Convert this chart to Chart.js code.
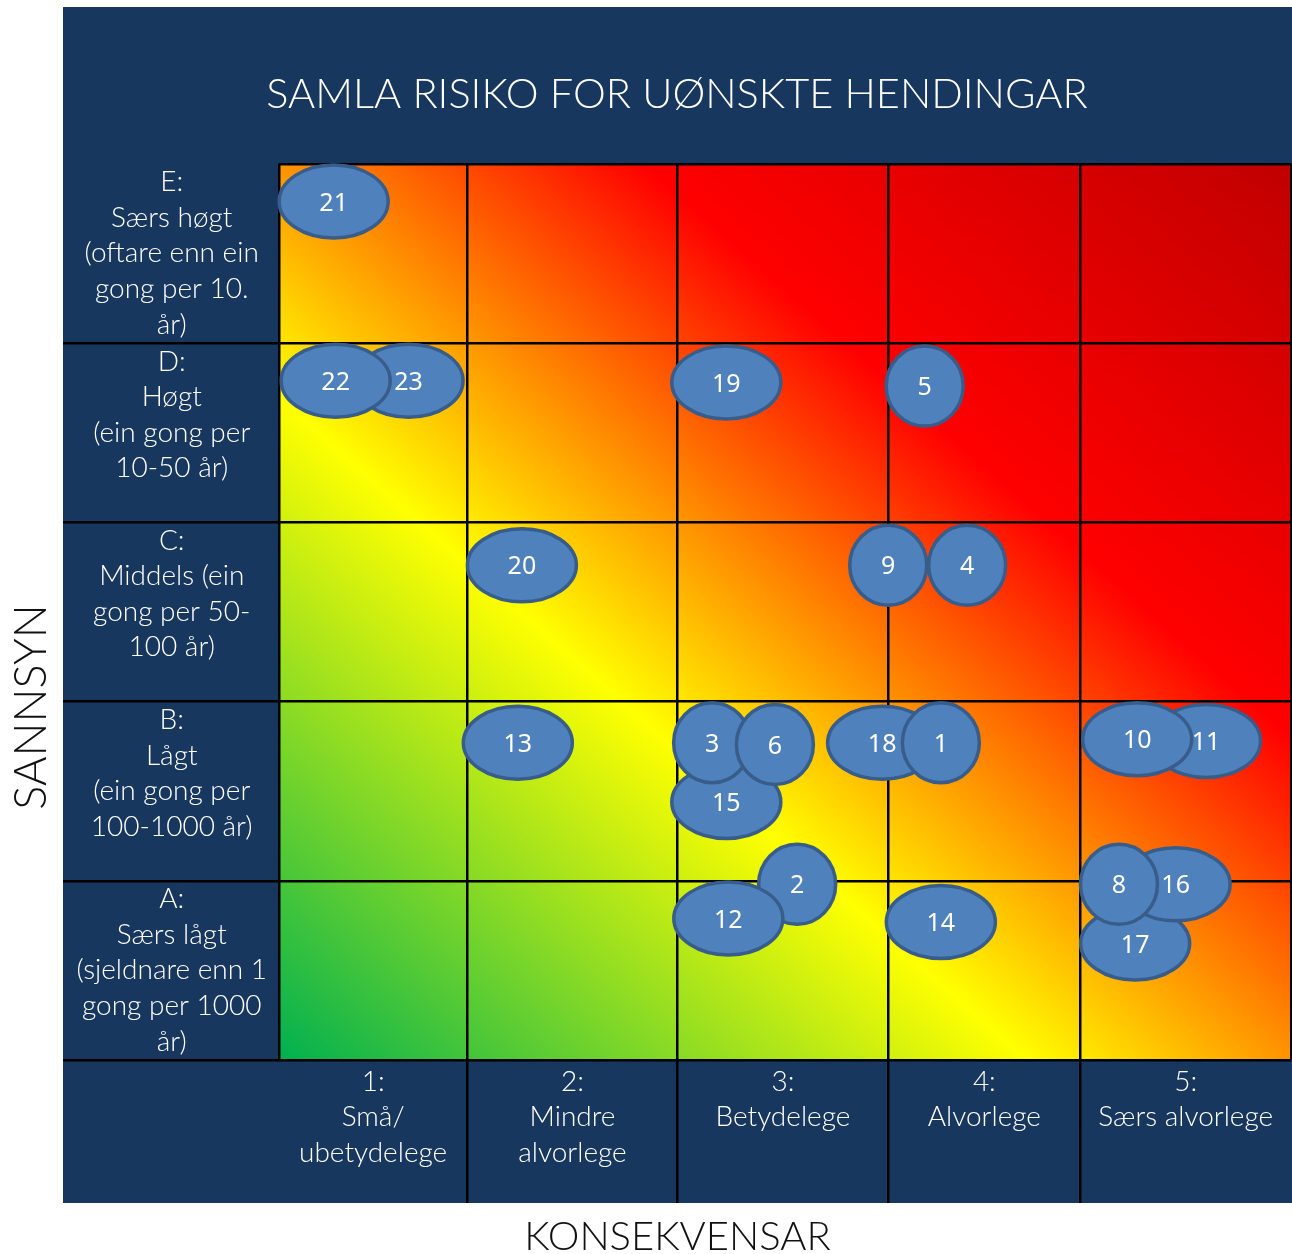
<!DOCTYPE html>
<html>
<head>
<meta charset="utf-8">
<script src="https://cdn.jsdelivr.net/npm/chart.js@4.4.1/dist/chart.umd.min.js"></script>
<style>
  html, body { margin: 0; padding: 0; background: #fff; }
  #wrap { width: 1292px; height: 1254px; }
</style>
</head>
<body>
<div id="wrap"><canvas id="risiko" width="1292" height="1254"></canvas></div>
<script>
const tittel = "SAMLA RISIKO FOR UØNSKTE HENDINGAR";
const aksetittelX = "KONSEKVENSAR";
const aksetittelY = "SANNSYN";

const konsekvensLabels = [
  ["1:", "Små/", "ubetydelege"],
  ["2:", "Mindre", "alvorlege"],
  ["3:", "Betydelege"],
  ["4:", "Alvorlege"],
  ["5:", "Særs alvorlege"]
];
// all labels padded to five lines so they sit at the top of each row
const sannsynLabels = [
  ["A:", "Særs lågt", "(sjeldnare enn 1", "gong per 1000", "år)"],
  ["B:", "Lågt", "(ein gong per", "100-1000 år)", ""],
  ["C:", "Middels (ein", "gong per 50-", "100 år)", ""],
  ["D:", "Høgt", "(ein gong per", "10-50 år)", ""],
  ["E:", "Særs høgt", "(oftare enn ein", "gong per 10.", "år)"]
];

// column and row borders on the value scales
const konsekvensGrenser = [0, 0.93, 1.97, 3.01, 3.96, 5];
const sannsynGrenser = [0, 1, 2, 3, 4, 5];

// events, in drawing order (last one on top)
const hendingar = [21, 23, 22, 19, 5, 20, 9, 4, 13, 15, 3, 6, 18, 1, 11, 10, 2, 12, 14, 17, 16, 8];
const konsekvens = [0.27, 0.64, 0.28, 2.21, 3.19, 1.20, 3.01, 3.40, 1.18, 2.21, 2.14, 2.45, 2.98, 3.27, 4.58, 4.24, 2.56, 2.22, 3.27, 4.23, 4.43, 4.15];
const sannsyn = [4.79, 3.79, 3.79, 3.78, 3.76, 2.76, 2.76, 2.76, 1.77, 1.44, 1.77, 1.76, 1.77, 1.77, 1.78, 1.79, 0.98, 0.79, 0.77, 0.65, 0.98, 0.98];

// events drawn as circles instead of wide ellipses
const runde = [5, 9, 4, 3, 6, 1, 2, 8];

const BLA = '#17375E';
const lysFont = { family: 'Lato, "Open Sans", sans-serif', weight: 300 };

const midtar = g => g.slice(0, -1).map((v, i) => ({ value: (v + g[i + 1]) / 2 }));

const bakgrunn = {
  id: 'bakgrunn',
  beforeDraw(chart) {
    const { ctx, chartArea: a, scales } = chart;
    ctx.save();
    ctx.fillStyle = '#fff';
    ctx.fillRect(0, 0, chart.width, chart.height);
    const top = chart.titleBlock.top;
    ctx.fillStyle = BLA;
    ctx.fillRect(scales.y2.left, top, chart.width - scales.y2.left, scales.x2.bottom - top);

    ctx.save();
    ctx.translate(a.left, a.bottom);
    ctx.scale(a.right - a.left, a.top - a.bottom);
    const g = ctx.createLinearGradient(0, 0, 1, 1);
    g.addColorStop(0, '#00B050');
    g.addColorStop(0.37, '#FFFF00');
    g.addColorStop(0.68, '#FF0000');
    g.addColorStop(1, '#C00000');
    ctx.fillStyle = g;
    ctx.fillRect(0, 0, 1, 1);
    ctx.restore();

    ctx.fillStyle = '#111';
    ctx.textAlign = 'center';
    ctx.textBaseline = 'middle';
    ctx.font = '300 40px Lato, "Open Sans", sans-serif';
    ctx.fillText(aksetittelX, (scales.y2.left + chart.width) / 2, scales.x2.bottom + 34);
    ctx.font = '300 45px Lato, "Open Sans", sans-serif';
    ctx.translate(scales.y2.left / 2, 707);
    ctx.rotate(-Math.PI / 2);
    ctx.fillText(aksetittelY, 0, 0);
    ctx.restore();
  }
};

const bobler = {
  id: 'bobler',
  afterDatasetsDraw(chart) {
    const { ctx } = chart;
    const meta = chart.getDatasetMeta(0);
    ctx.save();
    meta.data.forEach((p, i) => {
      const id = hendingar[i];
      const rund = runde.includes(id);
      const rx = rund ? 38.5 : 54.5;
      const ry = rund ? 40 : 36.5;
      ctx.beginPath();
      ctx.ellipse(p.x, p.y, rx, ry, 0, 0, Math.PI * 2);
      ctx.fillStyle = '#4F81BD';
      ctx.fill();
      ctx.lineWidth = 3.5;
      ctx.strokeStyle = '#385D8A';
      ctx.stroke();
      ctx.fillStyle = '#fff';
      ctx.font = '25px "Noto Sans", sans-serif';
      ctx.textAlign = 'center';
      ctx.textBaseline = 'middle';
      ctx.fillText(String(id), p.x, p.y + 2);
    });
    ctx.restore();
  }
};

new Chart('risiko', {
  type: 'scatter',
  data: {
    datasets: [{
      data: hendingar.map((id, i) => ({ x: konsekvens[i], y: sannsyn[i] })),
      pointRadius: 0
    }]
  },
  options: {
    responsive: false,
    animation: false,
    events: [],
    layout: { padding: { left: 63, right: 1, top: 7, bottom: 51 } },
    plugins: {
      legend: { display: false },
      tooltip: { enabled: false },
      title: {
        display: true,
        text: tittel,
        color: '#fff',
        font: { ...lysFont, size: 41.5, lineHeight: 1.2 },
        padding: { top: 63, bottom: 44 }
      }
    },
    scales: {
      x: {
        type: 'linear', position: 'bottom', min: 0, max: 5, weight: 0,
        afterBuildTicks: s => { s.ticks = konsekvensGrenser.map(v => ({ value: v })); },
        afterFit: s => { s.height = 0; },
        ticks: { display: false },
        border: { display: false },
        grid: {
          color: '#000', lineWidth: 2.5, drawTicks: true, tickLength: 143, tickWidth: 2.5,
          tickColor: c => (c.index === 0 || c.index === konsekvensGrenser.length - 1) ? 'rgba(0,0,0,0)' : '#000'
        }
      },
      x2: {
        type: 'linear', position: 'bottom', min: 0, max: 5, weight: 1,
        afterBuildTicks: s => { s.ticks = midtar(konsekvensGrenser); },
        afterFit: s => { s.height = 143; },
        border: { display: false },
        grid: { display: false, drawTicks: false },
        ticks: {
          autoSkip: false, maxRotation: 0, padding: 4, color: '#fff',
          font: { ...lysFont, size: 28, lineHeight: 1.27 },
          callback: (v, i) => konsekvensLabels[i]
        }
      },
      y: {
        type: 'linear', position: 'left', min: 0, max: 5, weight: 0,
        afterBuildTicks: s => { s.ticks = sannsynGrenser.map(v => ({ value: v })); },
        afterFit: s => { s.width = 0; },
        ticks: { display: false },
        border: { display: false },
        grid: {
          color: '#000', lineWidth: 2.5, drawTicks: true, tickLength: 216, tickWidth: 2.5,
          tickColor: c => c.index === sannsynGrenser.length - 1 ? 'rgba(0,0,0,0)' : '#000'
        }
      },
      y2: {
        type: 'linear', position: 'left', min: 0, max: 5, weight: 1,
        afterBuildTicks: s => { s.ticks = midtar(sannsynGrenser); },
        afterFit: s => { s.width = 216; },
        border: { display: false },
        grid: { display: false, drawTicks: false },
        ticks: {
          autoSkip: false, crossAlign: 'center', padding: 12, color: '#fff',
          font: { ...lysFont, size: 28, lineHeight: 1.27 },
          callback: (v, i) => sannsynLabels[i]
        }
      }
    }
  },
  plugins: [bakgrunn, bobler]
});
</script>
</body>
</html>
